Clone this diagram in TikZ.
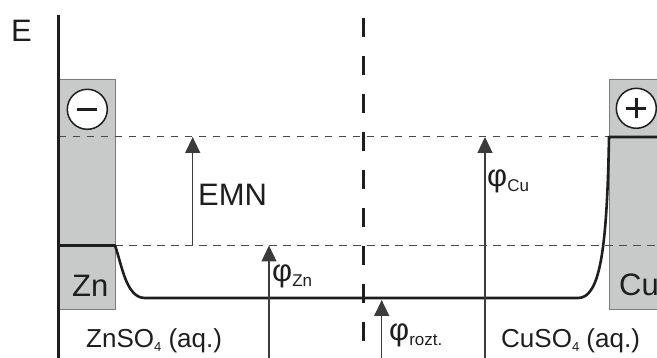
\documentclass[tikz,border=0pt]{standalone}
\usepackage{fontspec}
\setmainfont{Liberation Sans}
\usetikzlibrary{arrows.meta}
\definecolor{metal}{HTML}{C8C9C9}
\definecolor{ink}{HTML}{1E1E1E}
\definecolor{guide}{HTML}{4A4A4A}
\definecolor{rim}{HTML}{7A7A7A}
% subscripts for the potentials and the salts
\newcommand\potsub[1]{\raisebox{-5pt}{\fontsize{17}{17}\selectfont #1}}
\newcommand\saltsub[1]{\raisebox{-4pt}{\fontsize{13}{13}\selectfont #1}}
\begin{document}
\begin{tikzpicture}[x=1pt,y=-1pt,
  level/.style={guide, line width=1.7pt, dash pattern=on 7.5pt off 6.5pt},
  potential/.style={ink, line width=2.6pt, line join=round},
  boundary/.style={ink, line width=3pt, dash pattern=on 19pt off 19pt},
  meter/.style={guide!80!black, line width=1.3pt, -{Triangle[length=16pt,width=15pt]}},
  electrode/.style={fill=metal, draw=rim, line width=1pt},
  sign/.style={circle, draw=ink, fill=white, line width=1.5pt, minimum size=40pt, inner sep=0},
  big/.style={font=\fontsize{31}{31}\selectfont, inner sep=0, anchor=base west, text=ink},
  salt/.style={font=\fontsize{26}{26}\selectfont, inner sep=0, anchor=base west, text=ink}]
\useasboundingbox (0,0) rectangle (657,358);
\clip (0,0) rectangle (657,358);

% electrodes
\draw[electrode] (58.7,80) rectangle (115,310);
\draw[electrode] (609,80) rectangle (690,310);

% energy levels of the two metals
\coordinate (cuL) at (58.7,136.5);
\coordinate (cuR) at (657,136.5);
\coordinate (znL) at (115,245.5);
\coordinate (znR) at (657,245.5);
\draw[level] (cuL) -- (cuR);
\draw[level] (znL) -- (znR);

% potential profile through the cell
\draw[potential] (58.7,245.5) -- (115,245.5)
  .. controls (122,265) and (126,298) .. (145,298) -- (578,298)
  .. controls (600,298) and (607,250) .. (609,137) -- (660,137);

% porous partition
\coordinate (wallT) at (363.3,18);
\coordinate (wallB) at (363.3,360);
\draw[boundary] (wallT) -- (wallB);

% energy axis
\coordinate (axT) at (58.7,15);
\coordinate (axB) at (58.7,360);
\draw[ink, line width=3pt] (axT) -- (axB);

% potential differences
\coordinate (emnB) at (192.7,245.5);
\coordinate (emnT) at (192.7,137);
\coordinate (znB) at (269,360);
\coordinate (znT) at (269,245.5);
\coordinate (rzB) at (381.7,360);
\coordinate (rzT) at (381.7,300);
\coordinate (cuB) at (485,360);
\coordinate (cuT) at (485,137);
\draw[meter] (emnB) -- (emnT);
\draw[meter] (znB) -- (znT);
\draw[meter] (rzB) -- (rzT);
\draw[meter] (cuB) -- (cuT);

% polarity signs
\node[sign] (minus) at (87.3,109.3) {};
\draw[ink, line width=2.6pt] ([xshift=-10pt]minus.center) -- ([xshift=10pt]minus.center);
\node[sign] (plus) at (636.3,108.3) {};
\draw[ink, line width=2.6pt] ([xshift=-10pt]plus.center) -- ([xshift=10pt]plus.center);
\draw[ink, line width=2.6pt] ([yshift=-10pt]plus.center) -- ([yshift=10pt]plus.center);

% labels
\node[big] (axis) at (11,42) {E};
\node[big] (emn) at (198,206) {EMN};
\node[big] (zn) at (72,297) {Zn};
\node[big] (cu) at (619,296) {Cu};
\node[big] (phizn) at (272,282) {φ\potsub{Zn}};
\node[big] (phirz) at (389,341) {φ\potsub{rozt.}};
\node[big] (phicu) at (487,187) {φ\potsub{Cu}};
\node[salt] (znso) at (86,348) {ZnSO\saltsub{4} (aq.)};
\node[salt] (cuso) at (501,348) {CuSO\saltsub{4} (aq.)};
\end{tikzpicture}
\end{document}
